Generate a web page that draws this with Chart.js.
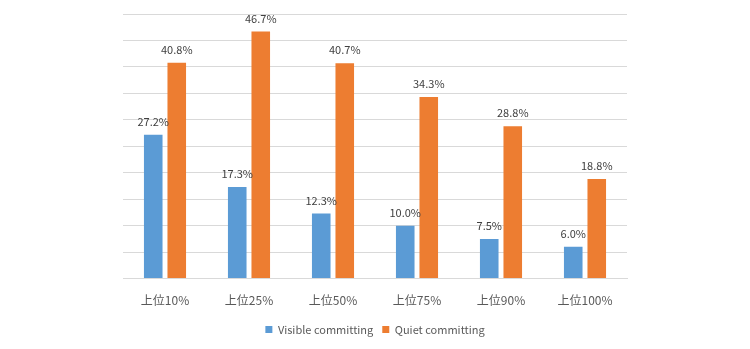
<!DOCTYPE html>
<html>
<head>
<meta charset="utf-8">
<script src="https://cdn.jsdelivr.net/npm/chart.js@4/dist/chart.umd.min.js"></script>
<style>
  html, body { margin: 0; padding: 0; background: #ffffff; }
  #wrap { width: 750px; height: 349px; }
</style>
</head>
<body>
<div id="wrap"><canvas id="c" width="750" height="349"></canvas></div>
<script>
const categories = ["上位10%", "上位25%", "上位50%", "上位75%", "上位90%", "上位100%"];
const visibleCommitting = [27.2, 17.3, 12.3, 10.0, 7.5, 6.0];
const quietCommitting = [40.8, 46.7, 40.7, 34.3, 28.8, 18.8];
const seriesNames = ["Visible committing", "Quiet committing"];

const FONT = "'Noto Sans CJK JP', 'Open Sans', sans-serif";

// Percentage labels above each bar
const barValueLabels = {
  id: 'barValueLabels',
  afterDatasetsDraw(chart) {
    const ctx = chart.ctx;
    ctx.save();
    ctx.font = "11px " + FONT;
    ctx.fillStyle = '#404040';
    ctx.textAlign = 'center';
    ctx.textBaseline = 'middle';
    chart.data.datasets.forEach((ds, i) => {
      chart.getDatasetMeta(i).data.forEach((bar, j) => {
        ctx.fillText(ds.data[j].toFixed(1) + '%', bar.x, bar.y - 13);
      });
    });
    ctx.restore();
  }
};

new Chart(document.getElementById('c'), {
  type: 'bar',
  data: {
    labels: categories,
    datasets: [
      { label: seriesNames[0], data: visibleCommitting, backgroundColor: '#5B9BD5',
        categoryPercentage: 0.56, barPercentage: 0.79 },
      { label: seriesNames[1], data: quietCommitting, backgroundColor: '#ED7D31',
        categoryPercentage: 0.56, barPercentage: 0.79 }
    ]
  },
  options: {
    responsive: false,
    animation: false,
    layout: { padding: { left: 123, right: 123, top: 14, bottom: 4 } },
    scales: {
      x: {
        grid: { display: false },
        border: { color: '#d9d9d9' },
        ticks: { color: '#595959', font: { family: FONT, size: 12 }, padding: 7 }
      },
      y: {
        min: 0, max: 50,
        ticks: { display: false, stepSize: 5 },
        border: { display: false },
        grid: { color: '#d9d9d9', drawTicks: false }
      }
    },
    plugins: {
      tooltip: { enabled: false },
      legend: {
        position: 'bottom',
        labels: {
          color: '#595959',
          font: { family: FONT, size: 11 },
          boxWidth: 7, boxHeight: 7, padding: 9
        }
      }
    }
  },
  plugins: [barValueLabels]
});
</script>
</body>
</html>
